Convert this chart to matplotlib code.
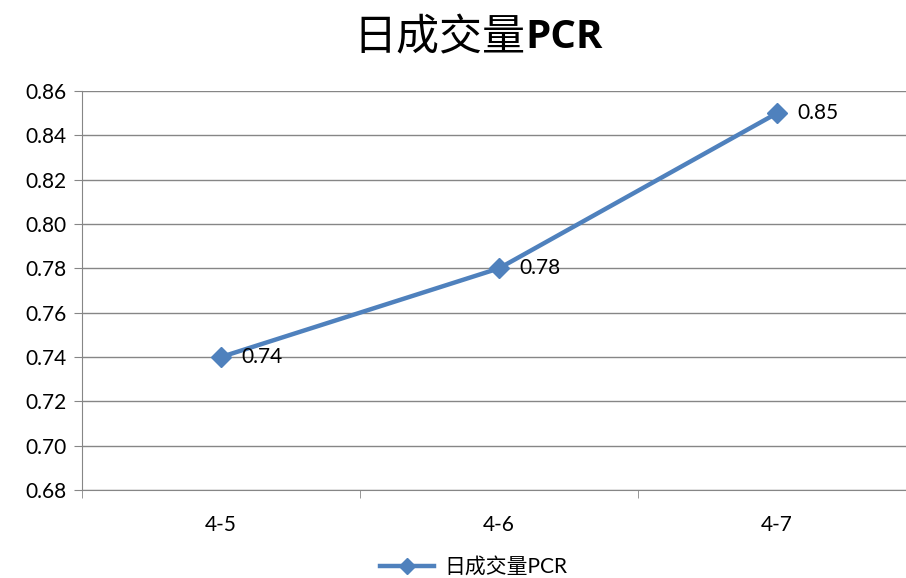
import numpy as np
import matplotlib.pyplot as plt

plt.rcParams['font.family'] = ['Lato', 'Noto Sans CJK SC', 'DejaVu Sans']

# data
dates = ["4-5", "4-6", "4-7"]
pcr = [0.74, 0.78, 0.85]
series_name = "日成交量PCR"

fig = plt.figure(figsize=(9.06, 5.78), dpi=100)
# plot area runs a little past the right edge, like the original
ax = fig.add_axes([82/906, 88/578, 834/906, 399/578])

blue = "#4F81BD"
grey = "#868686"

x = np.arange(len(dates))
ax.plot(x, pcr, color=blue, lw=3.2, marker="D", ms=10, label=series_name)
for xi, v in zip(x, pcr):
    ax.annotate(f"{v:.2f}", (xi, v), xytext=(15, 0), textcoords="offset points",
                va="center", ha="left", fontsize=15)

ax.set_xlim(-0.5, len(dates) - 0.5)
ax.set_ylim(0.68, 0.86)
ticks = np.arange(0.68, 0.861, 0.02)
ax.set_yticks(ticks)
ax.set_yticklabels([f"{t:.2f}" for t in ticks], fontsize=15)
ax.set_xticks(x)
ax.set_xticklabels(dates, fontsize=15)
ax.set_xticks(np.arange(-0.5, len(dates), 1), minor=True)
ax.tick_params(axis="x", which="major", length=0, pad=18)
ax.tick_params(axis="x", which="minor", length=6, color=grey)
ax.tick_params(axis="y", length=6, color=grey, pad=5)
ax.grid(axis="y", color=grey, lw=1)
ax.set_axisbelow(True)
for s in ["top", "right"]:
    ax.spines[s].set_visible(False)
for s in ["left", "bottom"]:
    ax.spines[s].set_color(grey)

# title: chinese part regular, PCR bold
fig.text(525/906, 1 - 38/578, "日成交量", ha="right", va="center",
         fontsize=31, family=['Noto Sans CJK SC'], fontweight="light")
fig.text(525/906, 1 - 38/578, "PCR", ha="left", va="center",
         fontsize=29, fontweight="bold", family=['Open Sans', 'DejaVu Sans'])
fig.legend(loc="center", bbox_to_anchor=(474/906, 1 - 567/578), frameon=False,
           fontsize=15, handlelength=2.6, handletextpad=0.5, borderaxespad=0,
           markerscale=0.8)

fig.savefig("out.png", dpi=100)
